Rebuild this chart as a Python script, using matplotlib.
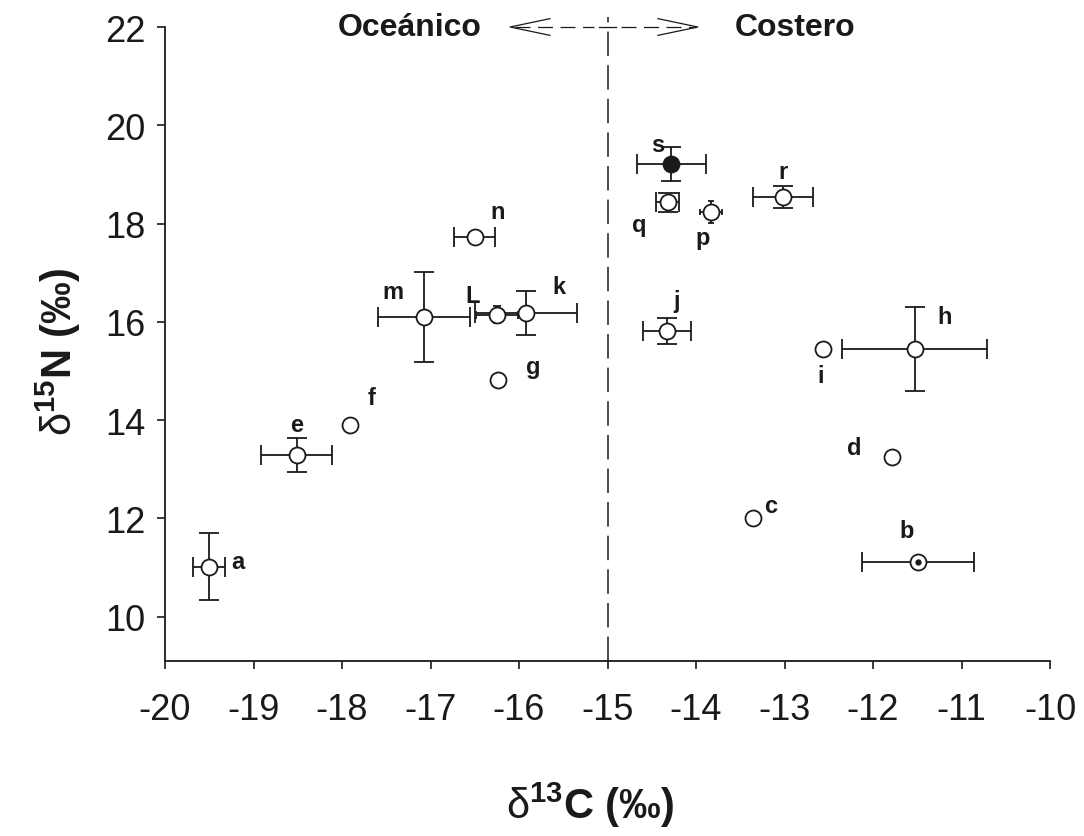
import matplotlib
matplotlib.use("Agg")
import matplotlib.pyplot as plt

plt.rcParams['font.family'] = ['Liberation Sans', 'DejaVu Sans']
plt.rcParams['mathtext.fontset'] = 'custom'
plt.rcParams['mathtext.rm'] = 'Liberation Sans'
plt.rcParams['mathtext.bf'] = 'Liberation Sans:bold'
plt.rcParams['mathtext.it'] = 'Liberation Sans:italic'

# ---- data ----
labels = ['a', 'b', 'c', 'd', 'e', 'f', 'g', 'h', 'i', 'j', 'k', 'L', 'm', 'n', 'p', 'q', 'r', 's']
d13C = [-19.50, -11.49, -13.36, -11.79, -18.51, -17.91, -16.24, -11.53, -12.56, -14.33,
        -15.92, -16.25, -17.07, -16.50, -13.83, -14.32, -13.02, -14.28]
d15N = [11.02, 11.12, 12.01, 13.25, 13.29, 13.90, 14.82, 15.45, 15.45, 15.81,
        16.18, 16.15, 16.10, 17.73, 18.23, 18.43, 18.54, 19.21]
d13C_err = [0.18, 0.63, 0, 0, 0.40, 0, 0, 0.82, 0, 0.27, 0.58, 0.24, 0.52, 0.23, 0.12, 0.13, 0.34, 0.39]
d15N_err = [0.68, 0, 0, 0, 0.34, 0, 0, 0.86, 0, 0.26, 0.45, 0.18, 0.92, 0, 0.22, 0.20, 0.22, 0.35]
x_ticks = [-20, -19, -18, -17, -16, -15, -14, -13, -12, -11, -10]
y_ticks = [10, 12, 14, 16, 18, 20, 22]
boundary = -15
left_zone = 'Oceánico'
right_zone = 'Costero'

# ---- styling (not data) ----
label_offsets = {  # pixel offsets of the letter from the point
    'a': (29, 5), 'b': (-11, 31), 'c': (18, 12), 'd': (-37, 10), 'e': (0, 31),
    'f': (22, 28), 'g': (35, 13), 'h': (30, 32), 'i': (-3, -27), 'j': (10, 31),
    'k': (33, 27), 'L': (-24, 19), 'm': (-31, 25), 'n': (23, 25), 'p': (-8, -25),
    'q': (-28, -22), 'r': (0, 26), 's': (-13, 20)}
capsizes = {'L': 3, 'p': 2}
ink = '#1a1a1a'

fig = plt.figure(figsize=(10.84, 8.37), dpi=100)
ax = fig.add_axes([165 / 1084, 1 - 662 / 837, 885 / 1084, 634 / 837])

for lab, x, y, xe, ye in zip(labels, d13C, d15N, d13C_err, d15N_err):
    face = ink if lab == 's' else 'white'
    ax.errorbar(x, y, xerr=xe if xe > 0 else None, yerr=ye if ye > 0 else None,
                fmt='o', ms=11.5, mfc=face, mec=ink, mew=1.3, ecolor=ink,
                elinewidth=1.3, capsize=capsizes.get(lab, 7), capthick=1.3, zorder=3)
    if lab == 'b':
        ax.plot(x, y, 'o', ms=3.5, color=ink, zorder=4)
    dx, dy = label_offsets[lab]
    ax.annotate(lab, (x, y), xytext=(dx, dy), textcoords='offset pixels',
                ha='center', va='center', fontsize=17, fontweight='bold', color=ink)

# boundary line
ax.plot([boundary, boundary], [9.1, 22.2], color=ink, lw=1.1,
        dashes=(16, 6), clip_on=False, zorder=1)

# top arrow
ytop = 22.0
ax.plot([-16.05, -15.15], [ytop, ytop], color=ink, lw=0.9, dashes=(12, 6), clip_on=False)
ax.plot([-14.85, -14.0], [ytop, ytop], color=ink, lw=0.9, dashes=(12, 6), clip_on=False)
ax.plot([-15.1, -14.9], [ytop, ytop], color=ink, lw=0.9, clip_on=False)
ax.plot([-15.65, -16.1, -15.65], [ytop + 0.17, ytop, ytop - 0.17], color=ink, lw=0.9, clip_on=False)
ax.plot([-14.43, -13.98, -14.43], [ytop + 0.17, ytop, ytop - 0.17], color=ink, lw=0.9, clip_on=False)
ax.text(-16.42, ytop, left_zone, ha='right', va='center', fontsize=23,
        fontweight='bold', color=ink)
ax.text(-13.56, ytop, right_zone, ha='left', va='center', fontsize=23,
        fontweight='bold', color=ink)

ax.set_xlim(-20, -10)
ax.set_ylim(9.1, 22)
ax.set_xticks(x_ticks)
ax.set_yticks(y_ticks)
ax.set_xticklabels([str(t) for t in x_ticks])
ax.set_yticklabels([str(t) for t in y_ticks])
ax.tick_params(direction='out', length=6, width=1.2, labelsize=26, colors=ink)
ax.tick_params(axis='x', pad=16)
ax.tick_params(axis='y', pad=8)
for side in ('top', 'right'):
    ax.spines[side].set_visible(False)
for side in ('left', 'bottom'):
    ax.spines[side].set_linewidth(1.3)
    ax.spines[side].set_color(ink)

ax.set_xlabel(r'$\mathrm{δ}^{\mathbf{13}}$C (‰)', fontsize=30, fontweight='bold', color=ink)
ax.xaxis.set_label_coords((590 - 165) / 885, (662 - 805) / 634)
ax.xaxis.label.set_va('center')
ax.set_ylabel(r'$\mathrm{δ}^{\mathbf{15}}$N (‰)', fontsize=30, fontweight='bold', color=ink)
ax.yaxis.set_label_coords((58 - 165) / 885, (662 - 352) / 634)
ax.yaxis.label.set_va('center')

fig.savefig('out.png', dpi=100, facecolor='white')
